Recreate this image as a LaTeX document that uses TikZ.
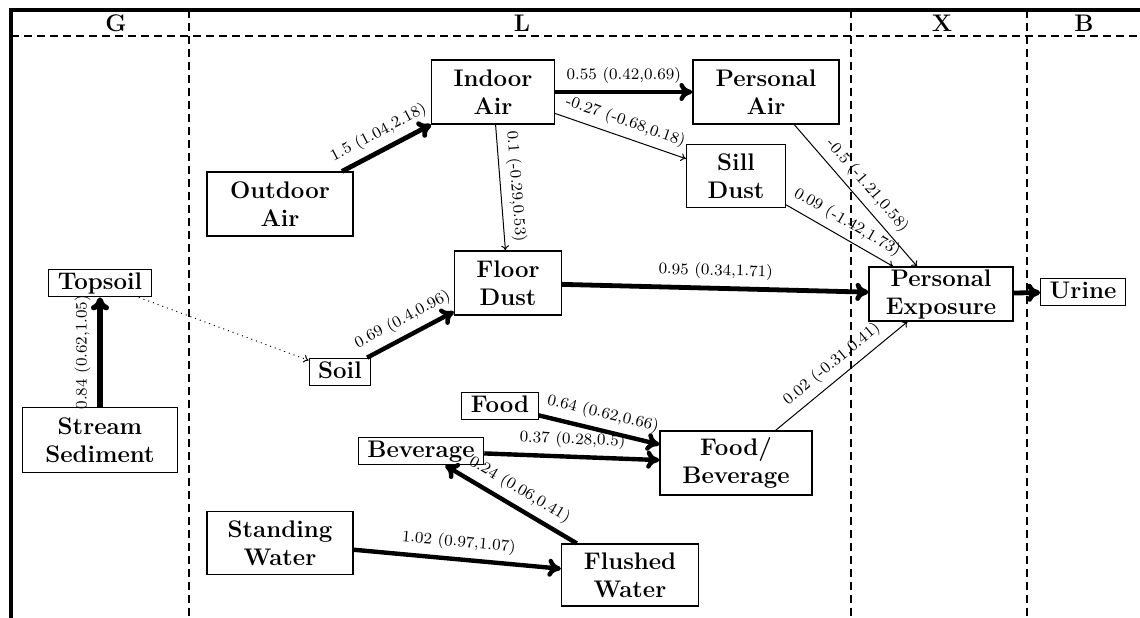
\documentclass[tikz,border=0pt]{standalone}
\usetikzlibrary{arrows.meta}
\begin{document}
\tikzset{
  box/.style={draw, line width=0.6pt, font=\large\bfseries, align=center},
  one/.style={box, inner xsep=4.5pt, inner ysep=1.5pt, text height=8.4pt, text depth=2.4pt},
  two/.style={box, inner sep=0pt},
  strong/.style={-{To[length=6.5pt,width=9pt]}, line width=2.2pt},
  weak/.style={-{To[length=2.5pt,width=4pt]}, line width=0.5pt},
  lab/.style={font=\footnotesize, above, sloped, midway},
  hdr/.style={font=\large\bfseries},
  sep/.style={dash pattern=on 4pt off 2.5pt, line width=0.6pt},
}
\begin{tikzpicture}[x=0.5pt,y=-0.5pt]
\clip (0,0) rectangle (1140,617);
% frame and columns
\draw[line width=2pt] (11,660) -- (11,10) -- (1200,10);
\draw[sep] (11,36) -- (1200,36);
\draw[sep] (189,10) -- (189,660);
\draw[sep] (851,10) -- (851,660);
\draw[sep] (1027,10) -- (1027,660);
\node[hdr] (hG) at (116,23) {G};
\node[hdr] (hL) at (522,23) {L};
\node[hdr] (hX) at (942,23) {X};
\node[hdr] (hB) at (1084,23) {B};
% nodes
\node[two, minimum width=61.5pt, minimum height=32pt] (indoor) at (493,92) {Indoor\\Air};
\node[two, minimum width=73pt, minimum height=32pt] (pair) at (766,92) {Personal\\Air};
\node[two, minimum width=49.5pt, minimum height=31.5pt] (sill) at (736,176) {Sill\\Dust};
\node[two, minimum width=73pt, minimum height=32pt] (outdoor) at (280,204) {Outdoor\\Air};
\node[two, minimum width=53.5pt, minimum height=32pt] (floor) at (508,283) {Floor\\Dust};
\node[one] (topsoil) at (100,283) {Topsoil};
\node[one] (soil) at (340,372) {Soil};
\node[two, minimum width=72pt, minimum height=27pt] (pe) at (941,294) {Personal\\Exposure};
\node[one] (urine) at (1083,292) {Urine};
\node[two, minimum width=77.5pt, minimum height=32.5pt] (stream) at (100,440) {Stream\\Sediment};
\node[one] (food) at (500,406) {Food};
\node[one] (bev) at (421,451) {Beverage};
\node[two, minimum width=76pt, minimum height=32pt] (fb) at (736,463) {Food/\\Beverage};
\node[two, minimum width=73pt, minimum height=31.5pt] (standing) at (280,543) {Standing\\Water};
\node[two, minimum width=68.5pt, minimum height=31pt] (flushed) at (630,575) {Flushed\\Water};
% edges
\draw[strong, line width=2.4pt] (outdoor) -- node[lab]{1.5 (1.04,2.18)} (indoor);
\draw[strong] (indoor) -- node[lab]{0.55 (0.42,0.69)} (pair);
\draw[weak] (indoor) -- node[lab]{-0.27 (-0.68,0.18)} (sill);
\draw[weak] (indoor) -- node[lab]{0.1 (-0.29,0.53)} (floor);
\draw[weak] (pair) -- node[lab]{-0.5 (-1.21,0.58)} (pe);
\draw[weak] (sill) -- node[lab]{0.09 (-1.42,1.73)} (pe);
\draw[strong, line width=2.4pt] (floor) -- node[lab]{0.95 (0.34,1.71)} (pe);
\draw[strong, line width=2.4pt] (pe) -- (urine);
\draw[strong, line width=2.7pt] (stream) -- node[lab]{0.84 (0.62,1.05)} (topsoil);
\draw[weak, dotted] (topsoil) -- (soil);
\draw[strong] (soil) -- node[lab]{0.69 (0.4,0.96)} (floor);
\draw[strong] (food) -- node[lab]{0.64 (0.62,0.66)} (fb);
\draw[strong] (bev) -- node[lab]{0.37 (0.28,0.5)} (fb);
\draw[strong] (flushed) -- node[lab]{0.24 (0.06,0.41)} (bev);
\draw[strong] (standing) -- node[lab]{1.02 (0.97,1.07)} (flushed);
\draw[weak] (fb) -- node[lab]{0.02 (-0.31,0.41)} (pe);
\end{tikzpicture}
\end{document}
